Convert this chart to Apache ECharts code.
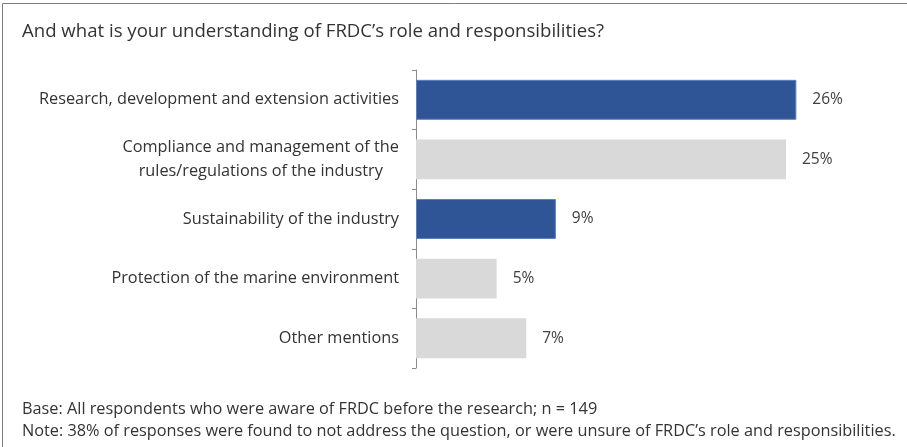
<!DOCTYPE html>
<html><head><meta charset="utf-8">
<script src="https://cdn.jsdelivr.net/npm/echarts@6/dist/echarts.min.js"></script>
<style>html,body{margin:0;padding:0;background:#fff}#c{width:907px;height:447px}</style>
</head><body><div id="c"></div>
<script>
const categories = [
  "Research, development and extension activities",
  "Compliance and management of the\nrules/regulations of the industry",
  "Sustainability of the industry",
  "Protection of the marine environment",
  "Other mentions"
];
const values = [25.7, 25.0, 9.45, 5.45, 7.45];
const highlighted = [true, false, true, false, false];
const titleText = "And what is your understanding of FRDC\u2019s role and responsibilities?";
const baseNote = "Base: All respondents who were aware of FRDC before the research; n = 149";
const noteText = "Note: 38% of responses were found to not address the question, or were unsure of FRDC\u2019s role and responsibilities.";

const FONT = "'Open Sans', 'Noto Sans', sans-serif";
const chart = echarts.init(document.getElementById('c'), null, {renderer: 'canvas'});
chart.setOption({
  animation: false,
  backgroundColor: '#fff',
  textStyle: {fontFamily: FONT},
  title: [
    {text: titleText, left: 17, top: 17, textStyle: {fontFamily: FONT, fontSize: 18.6, fontWeight: 'normal', color: '#333'}},
    {text: baseNote, left: 17, top: 396, textStyle: {fontFamily: FONT, fontSize: 16.3, fontWeight: 'normal', color: '#333'}},
    {text: noteText, left: 17, top: 418, textStyle: {fontFamily: FONT, fontSize: 16.3, fontWeight: 'normal', color: '#333'}}
  ],
  graphic: [
    {type: 'polyline', shape: {points: [[2.5, 447], [2.5, 3.5], [907, 3.5]]}, style: {stroke: '#7f7f7f', lineWidth: 1, fill: null}, silent: true}
  ],
  grid: {left: 416, top: 70, height: 298, width: 444},
  xAxis: {type: 'value', min: 0, max: 30, show: false},
  yAxis: {
    type: 'category', inverse: true, data: categories,
    axisLine: {show: true, lineStyle: {color: '#8c8c8c', width: 1}},
    axisTick: {show: true, length: 4, lineStyle: {color: '#8c8c8c'}},
    axisLabel: {
      margin: 17, color: '#333', fontSize: 16.3, fontFamily: FONT,
      formatter: function (v) {
        return v.split('\n').map(function (l) { return '{c|' + l + '}'; }).join('\n');
      },
      rich: {c: {align: 'center', fontSize: 16.3, fontFamily: FONT, color: '#333', lineHeight: 24}}
    }
  },
  series: [{
    type: 'bar', barCategoryGap: '33%',
    data: values.map(function (v, i) {
      return {value: v, itemStyle: {color: highlighted[i] ? '#2F5597' : '#D9D9D9', borderColor: highlighted[i] ? '#5B7FC0' : '#D9D9D9', borderWidth: highlighted[i] ? 1 : 0}};
    }),
    label: {show: true, position: 'right', distance: 16, color: '#404040', fontSize: 15.5, fontFamily: FONT,
      formatter: function (p) { return Math.round(p.value) + '%'; }}
  }]
});
</script></body></html>
